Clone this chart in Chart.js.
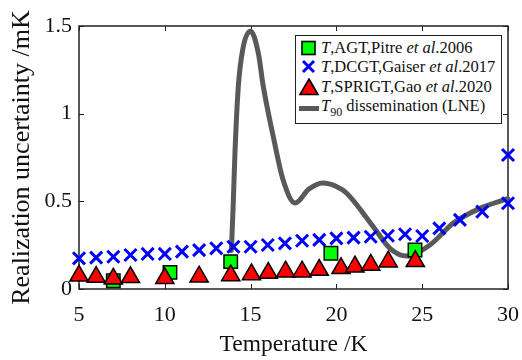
<!DOCTYPE html>
<html>
<head>
<meta charset="utf-8">
<script src="https://cdn.jsdelivr.net/npm/chart.js@4"></script>
<style>
  html, body { margin: 0; padding: 0; background: #fff; }
  #wrap { position: relative; width: 522px; height: 360px; }
  #legend {
    position: absolute; left: 295px; top: 35px; width: 207px; height: 89px;
    box-sizing: border-box; border: 1.5px solid #222; background: #fff;
    font-family: 'Liberation Serif', 'Times New Roman', serif; font-size: 16.5px; color: #111;
    padding-top: 2px;
  }
  .row { display: flex; align-items: center; height: 19.5px; white-space: nowrap; }
  .row svg { width: 22px; height: 18px; margin-left: 2px; margin-right: 1px; flex: none; }
  .row sub { font-size: 12px; vertical-align: -5px; line-height: 0; }
</style>
</head>
<body>
<div id="wrap">
  <canvas id="chart" width="522" height="360"></canvas>
  <div id="legend">
    <div class="row"><svg viewBox="0 0 22 18"><rect x="4" y="2.5" width="13" height="13" fill="#00ff00" stroke="#000" stroke-width="1.6"/></svg><span><i>T</i>,AGT,Pitre <i>et al</i>.2006</span></div>
    <div class="row"><svg viewBox="0 0 22 18"><path d="M5 3 L16 14 M16 3 L5 14" stroke="#0000ff" stroke-width="3"/></svg><span><i>T</i>,DCGT,Gaiser <i>et al</i>.2017</span></div>
    <div class="row"><svg viewBox="0 0 22 18"><polygon points="11,1 20,16.5 2,16.5" fill="#ff0000" stroke="#000" stroke-width="1.6"/></svg><span><i>T</i>,SPRIGT,Gao <i>et al</i>.2020</span></div>
    <div class="row"><svg viewBox="0 0 22 18"><rect x="1" y="9" width="20" height="5" fill="#595959"/></svg><span><i>T</i><sub>90</sub> dissemination (LNE)</span></div>
  </div>
</div>
<script>
// AGT, Pitre et al. 2006
const agtT = [7, 10.3, 13.84, 19.68, 24.58];
const agtU = [0.047, 0.095, 0.156, 0.204, 0.222];

// DCGT, Gaiser et al. 2017
const dcgtT = [5, 6, 7, 8, 9, 10, 11, 12, 13, 14, 15, 16, 17, 18, 19, 20, 21, 22, 23, 24, 25, 26, 27.2, 28.5, 30, 30];
const dcgtU = [0.175, 0.179, 0.184, 0.194, 0.2, 0.2, 0.213, 0.222, 0.232, 0.241, 0.241, 0.251, 0.26, 0.275, 0.28, 0.289, 0.293, 0.298, 0.304, 0.312, 0.302, 0.346, 0.394, 0.441, 0.489, 0.764];

// SPRIGT, Gao et al. 2020
const sprigtT = [5, 6, 7, 8, 10, 12, 13.84, 15.05, 16.03, 17.04, 18, 19, 20.27, 21.08, 22, 23.02, 24.6];
const sprigtU = [0.075, 0.068, 0.058, 0.067, 0.061, 0.07, 0.077, 0.083, 0.091, 0.099, 0.099, 0.108, 0.118, 0.127, 0.137, 0.156, 0.158];

// T90 dissemination (LNE)
const lneT = [13.88, 13.99, 14.09, 14.28, 14.57, 15.0, 15.45, 15.74, 16.32, 16.9, 17.6, 18.4, 19.2, 20.0, 20.6, 22.15, 23.12, 24.1, 25.45, 26.8, 28.37, 30];
const lneU = [0.22, 0.49, 0.78, 1.15, 1.38, 1.47, 1.345, 1.155, 0.87, 0.62, 0.49, 0.57, 0.605, 0.585, 0.546, 0.355, 0.232, 0.188, 0.251, 0.375, 0.46, 0.515];

const xTicks = [5, 10, 15, 20, 25, 30];
const yTicks = [0, 0.5, 1, 1.5];

const pts = (xs, ys) => xs.map((x, i) => ({ x: x, y: ys[i] }));
const serif = "'Liberation Serif', 'Times New Roman', serif";

// box around the plot with inward ticks
const framePlugin = {
  id: 'frame',
  beforeDatasetsDraw(chart) {
    const { ctx, chartArea: a, scales } = chart;
    ctx.save();
    ctx.strokeStyle = '#222';
    ctx.lineWidth = 1.5;
    ctx.strokeRect(a.left, a.top, a.right - a.left, a.bottom - a.top);
    ctx.lineWidth = 1;
    ctx.beginPath();
    xTicks.forEach(v => {
      const px = Math.round(scales.x.getPixelForValue(v)) + 0.5;
      ctx.moveTo(px, a.bottom); ctx.lineTo(px, a.bottom - 5);
      ctx.moveTo(px, a.top); ctx.lineTo(px, a.top + 5);
    });
    yTicks.forEach(v => {
      const py = Math.round(scales.y.getPixelForValue(v)) + 0.5;
      ctx.moveTo(a.left, py); ctx.lineTo(a.left + 5, py);
      ctx.moveTo(a.right, py); ctx.lineTo(a.right - 5, py);
    });
    ctx.stroke();
    ctx.restore();
  }
};

new Chart(document.getElementById('chart'), {
  type: 'scatter',
  data: {
    datasets: [
      {
        label: 'T,AGT,Pitre et al.2006',
        data: pts(agtT, agtU),
        pointStyle: 'rect',
        pointRadius: 9.5,
        backgroundColor: '#00ff00',
        borderColor: '#000',
        borderWidth: 1.5,
        clip: false,
        order: 2
      },
      {
        label: 'T,DCGT,Gaiser et al.2017',
        data: pts(dcgtT, dcgtU),
        pointStyle: 'crossRot',
        pointRadius: 8.5,
        borderColor: '#0000ff',
        borderWidth: 3,
        clip: false,
        order: 3
      },
      {
        label: 'T,SPRIGT,Gao et al.2020',
        data: pts(sprigtT, sprigtU),
        pointStyle: 'triangle',
        pointRadius: 10.5,
        backgroundColor: '#ff0000',
        borderColor: '#000',
        borderWidth: 1.5,
        clip: false,
        order: 1
      },
      {
        label: 'T90 dissemination (LNE)',
        data: pts(lneT, lneU),
        showLine: true,
        cubicInterpolationMode: 'monotone',
        pointRadius: 0,
        borderColor: '#595959',
        borderWidth: 5,
        borderCapStyle: 'round',
        clip: false,
        order: 4
      }
    ]
  },
  options: {
    responsive: false,
    animation: false,
    layout: { padding: { top: 26, right: 14, left: 0, bottom: 0 } },
    plugins: { legend: { display: false }, tooltip: { enabled: false } },
    scales: {
      x: {
        type: 'linear',
        min: 5, max: 30,
        afterBuildTicks: s => { s.ticks = xTicks.map(v => ({ value: v })); },
        afterFit: s => { s.height = 71; s.paddingLeft = 0; s.paddingRight = 0; },
        grid: { display: false, drawTicks: false },
        border: { display: false },
        ticks: { color: '#111', padding: 13, font: { family: serif, size: 22 }, callback: v => String(v) },
        title: {
          display: true, text: 'Temperature /K', color: '#111',
          font: { family: serif, size: 23.5 }, padding: { top: 0, bottom: 1 }
        }
      },
      y: {
        type: 'linear',
        min: 0, max: 1.5,
        afterBuildTicks: s => { s.ticks = yTicks.map(v => ({ value: v })); },
        afterFit: s => { s.width = 79; s.paddingTop = 0; s.paddingBottom = 0; },
        grid: { display: false, drawTicks: false },
        border: { display: false },
        ticks: { color: '#111', padding: 7, font: { family: serif, size: 22 }, callback: v => String(v) },
        title: {
          display: true, text: 'Realization uncertainty /mK', color: '#111',
          font: { family: serif, size: 26 }, padding: { top: 7, bottom: 0 }
        }
      }
    }
  },
  plugins: [framePlugin]
});
</script>
</body>
</html>
